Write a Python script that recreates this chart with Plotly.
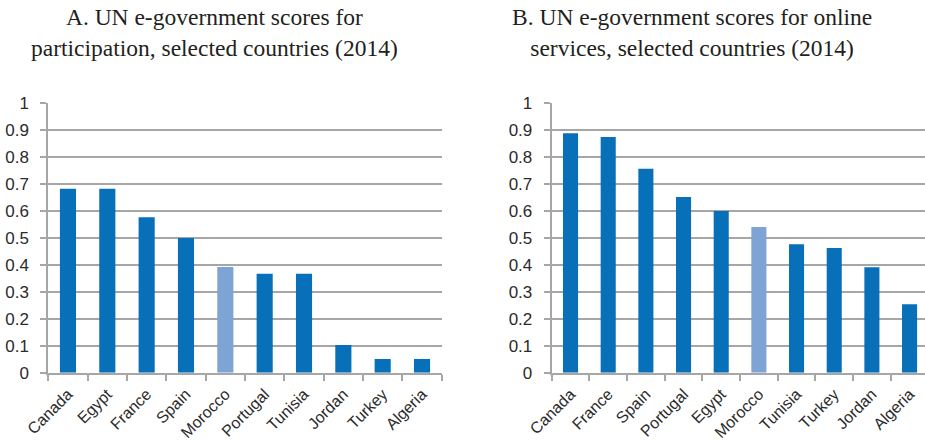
import plotly.graph_objects as go

# Panel A: participation scores
countries_a = ["Canada", "Egypt", "France", "Spain", "Morocco", "Portugal",
               "Tunisia", "Jordan", "Turkey", "Algeria"]
scores_a = [0.683, 0.683, 0.577, 0.50, 0.392, 0.367, 0.367, 0.103, 0.051, 0.051]

# Panel B: online services scores
countries_b = ["Canada", "France", "Spain", "Portugal", "Egypt", "Morocco",
               "Tunisia", "Turkey", "Jordan", "Algeria"]
scores_b = [0.889, 0.875, 0.757, 0.652, 0.600, 0.541, 0.477, 0.463, 0.391, 0.254]

y_ticks = [0, 0.1, 0.2, 0.3, 0.4, 0.5, 0.6, 0.7, 0.8, 0.9, 1]
y_tick_text = ["0", "0.1", "0.2", "0.3", "0.4", "0.5", "0.6", "0.7", "0.8", "0.9", "1"]

DARK = "#0870B8"
LIGHT = "#7DA4D5"
HIGHLIGHT = "Morocco"
GRID = "#A6A6A6"
Y_FONT = dict(family="Liberation Sans, Arial, sans-serif", size=17, color="#2B2B2B")
X_FONT = dict(family="Liberation Sans, Arial, sans-serif", size=16, color="#2B2B2B")
TITLE_FONT = dict(family="Liberation Serif, Times New Roman, serif", size=23.5, color="#231F20")

W, H = 925, 443


def colours(names):
    return [LIGHT if n == HIGHLIGHT else DARK for n in names]


fig = go.Figure()
fig.add_trace(go.Bar(x=countries_a, y=scores_a, marker_color=colours(countries_a),
                     marker_line_width=0, width=0.41, xaxis="x", yaxis="y",
                     showlegend=False))
fig.add_trace(go.Bar(x=countries_b, y=scores_b, marker_color=colours(countries_b),
                     marker_line_width=0, width=0.40, xaxis="x2", yaxis="y2",
                     showlegend=False))

y_dom = [70.3 / H, 339.7 / H]

xaxis_common = dict(
    type="category", showline=True, linecolor=GRID, linewidth=2,
    ticks="outside", tickson="boundaries", ticklen=6, tickcolor=GRID, tickwidth=2,
    tickangle=-45, tickfont=X_FONT, showgrid=False, zeroline=False,
    ticklabelstandoff=4, automargin=False,
)
yaxis_common = dict(
    range=[0, 1], tickvals=y_ticks, ticktext=y_tick_text,
    showline=True, linecolor=GRID, linewidth=2,
    ticks="outside", ticklen=6, tickcolor=GRID, tickwidth=2,
    showgrid=True, gridcolor=GRID, gridwidth=2, zeroline=False,
    tickfont=Y_FONT, ticklabelstandoff=8, domain=y_dom, automargin=False,
)

right_start = 551.7
cat_w_b = 37.67
right_max = -0.5 + (W - right_start) / cat_w_b

fig.update_layout(
    width=W, height=H,
    margin=dict(l=0, r=0, t=0, b=0, autoexpand=False),
    paper_bgcolor="white", plot_bgcolor="white",
    bargap=0.59,
    xaxis=dict(xaxis_common, domain=[48.3 / W, 441.7 / W], anchor="y",
               range=[-0.5, 9.5]),
    yaxis=dict(yaxis_common, anchor="x"),
    xaxis2=dict(xaxis_common, domain=[right_start / W, 1.0], anchor="y2",
                range=[-0.5, right_max]),
    yaxis2=dict(yaxis_common, anchor="x2"),
    annotations=[
        dict(text="A. UN e-government scores for<br>participation, selected countries (2014)",
             x=214 / W, y=1 - 2 / H, xref="paper", yref="paper",
             xanchor="center", yanchor="top", showarrow=False,
             font=TITLE_FONT, align="center"),
        dict(text="B. UN e-government scores for online<br>services, selected countries (2014)",
             x=692 / W, y=1 - 2 / H, xref="paper", yref="paper",
             xanchor="center", yanchor="top", showarrow=False,
             font=TITLE_FONT, align="center"),
    ],
)

fig.write_html("out.html")
